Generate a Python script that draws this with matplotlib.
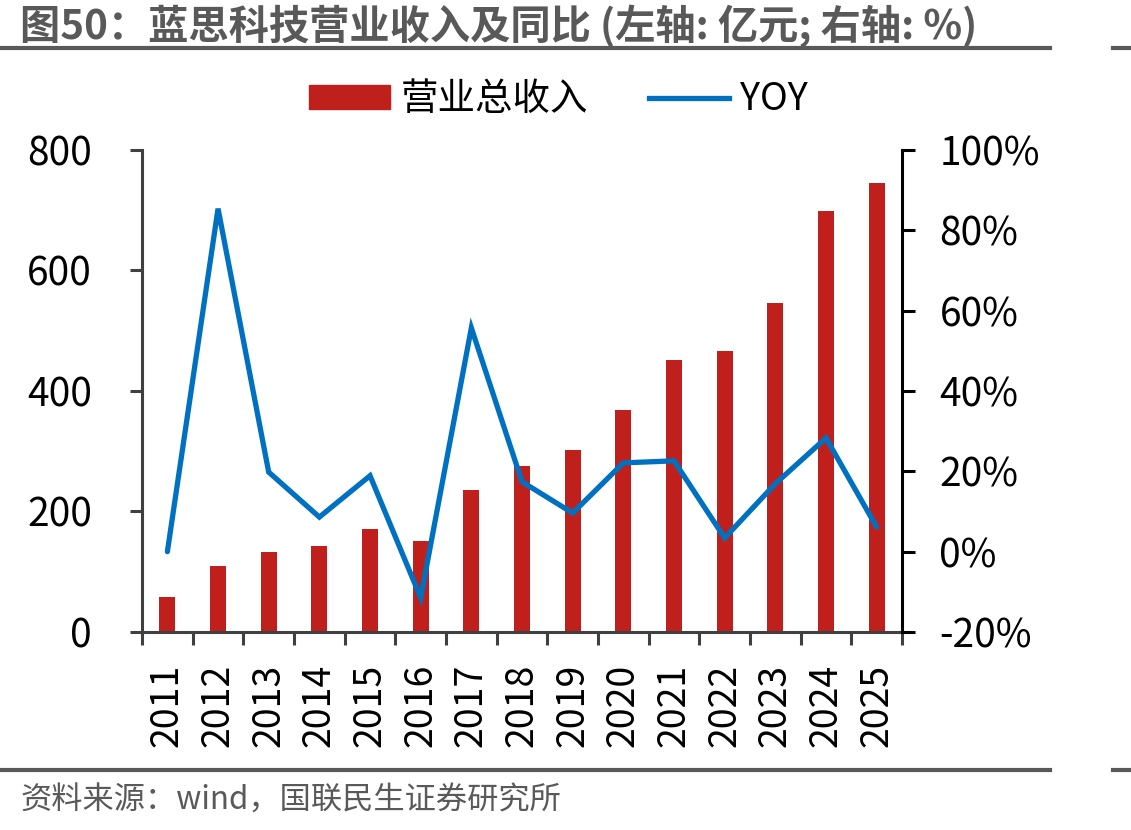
import matplotlib
matplotlib.use('Agg')
import matplotlib.pyplot as plt
from matplotlib.lines import Line2D
from matplotlib.patches import Patch
from matplotlib.ticker import FuncFormatter, FixedLocator

plt.rcParams['font.family'] = ['Noto Sans CJK SC', 'DejaVu Sans']

years = ['2011', '2012', '2013', '2014', '2015', '2016', '2017', '2018',
         '2019', '2020', '2021', '2022', '2023', '2024', '2025']
revenue = [58, 110, 133, 143, 171, 151, 236, 276, 302, 368, 451, 466, 546, 699, 745]
yoy = [0.0, 85.4, 19.8, 8.6, 18.9, -11.5, 55.7, 17.4, 9.6, 22.1, 22.6, 3.4, 16.9, 28.3, 6.1]

bar_color = '#C0201C'
line_color = '#0070C0'
gray = '#595959'

fig = plt.figure(figsize=(11.31, 8.30), dpi=100)
ax = fig.add_axes([0.1256, 0.2386, 0.6719, 0.5807])
x = list(range(len(years)))

ax.bar(x, revenue, width=0.32, color=bar_color, zorder=2)
ax.set_xlim(-0.5, len(years) - 0.5)
ax.set_ylim(0, 800)
ax.set_yticks([0, 200, 400, 600, 800])

ax2 = ax.twinx()
ax2.plot(x, yoy, color=line_color, lw=3.8, solid_capstyle='round', solid_joinstyle='miter', zorder=3)
ax2.set_ylim(-20, 100)
ax2.set_yticks([-20, 0, 20, 40, 60, 80, 100])
ax2.yaxis.set_major_formatter(FuncFormatter(lambda v, p: f'{v:.0f}%'))

# category labels at centres, tick marks at boundaries
ax.set_xticks(x)
ax.set_xticklabels(years, rotation=90, fontsize=27)
ax.tick_params(axis='x', which='major', length=0, pad=23)
ax.xaxis.set_minor_locator(FixedLocator([i - 0.5 for i in range(len(years) + 1)]))
ax.tick_params(axis='x', which='minor', length=9.5, width=2.2, color='#404040', direction='out')

ax.tick_params(axis='y', labelsize=28, length=9, width=2.2, color='#404040', pad=27)
ax2.tick_params(axis='y', labelsize=28, length=9, width=2.2, color='black', pad=18)

for a in (ax, ax2):
    a.spines['top'].set_visible(False)
ax.spines['right'].set_visible(False)
ax2.spines['left'].set_visible(False)
ax2.spines['bottom'].set_visible(False)
ax.spines['left'].set_color('#404040')
ax.spines['bottom'].set_color('#404040')
ax.spines['left'].set_linewidth(2.2)
ax.spines['bottom'].set_linewidth(2.2)
ax2.spines['right'].set_linewidth(2.2)
ax2.spines['right'].set_color('black')

handles = [Patch(color=bar_color), Line2D([], [], color=line_color, lw=3.8)]
fig.legend(handles, ['营业总收入', 'YOY'], loc='center', bbox_to_anchor=(0.494, 0.88),
           ncol=2, frameon=False, fontsize=27, handlelength=2.15, handleheight=0.6,
           columnspacing=1.6, handletextpad=0.3)

fig.text(0.018, 0.968, '图50：蓝思科技营业收入及同比 (左轴: 亿元; 右轴: %)', fontsize=29,
         fontweight='bold', color=gray, va='center', ha='left')
fig.add_artist(Line2D([0, 0.928], [0.942, 0.942], color=gray, lw=3))
fig.add_artist(Line2D([0.984, 1.0], [0.942, 0.942], color=gray, lw=3))
fig.add_artist(Line2D([0, 0.928], [0.072, 0.072], color=gray, lw=3))
fig.add_artist(Line2D([0.984, 1.0], [0.072, 0.072], color=gray, lw=3))
fig.text(0.018, 0.035, '资料来源：wind，国联民生证券研究所', fontsize=22.5, color=gray,
         va='center', ha='left')

fig.savefig('out.png', dpi=100)
